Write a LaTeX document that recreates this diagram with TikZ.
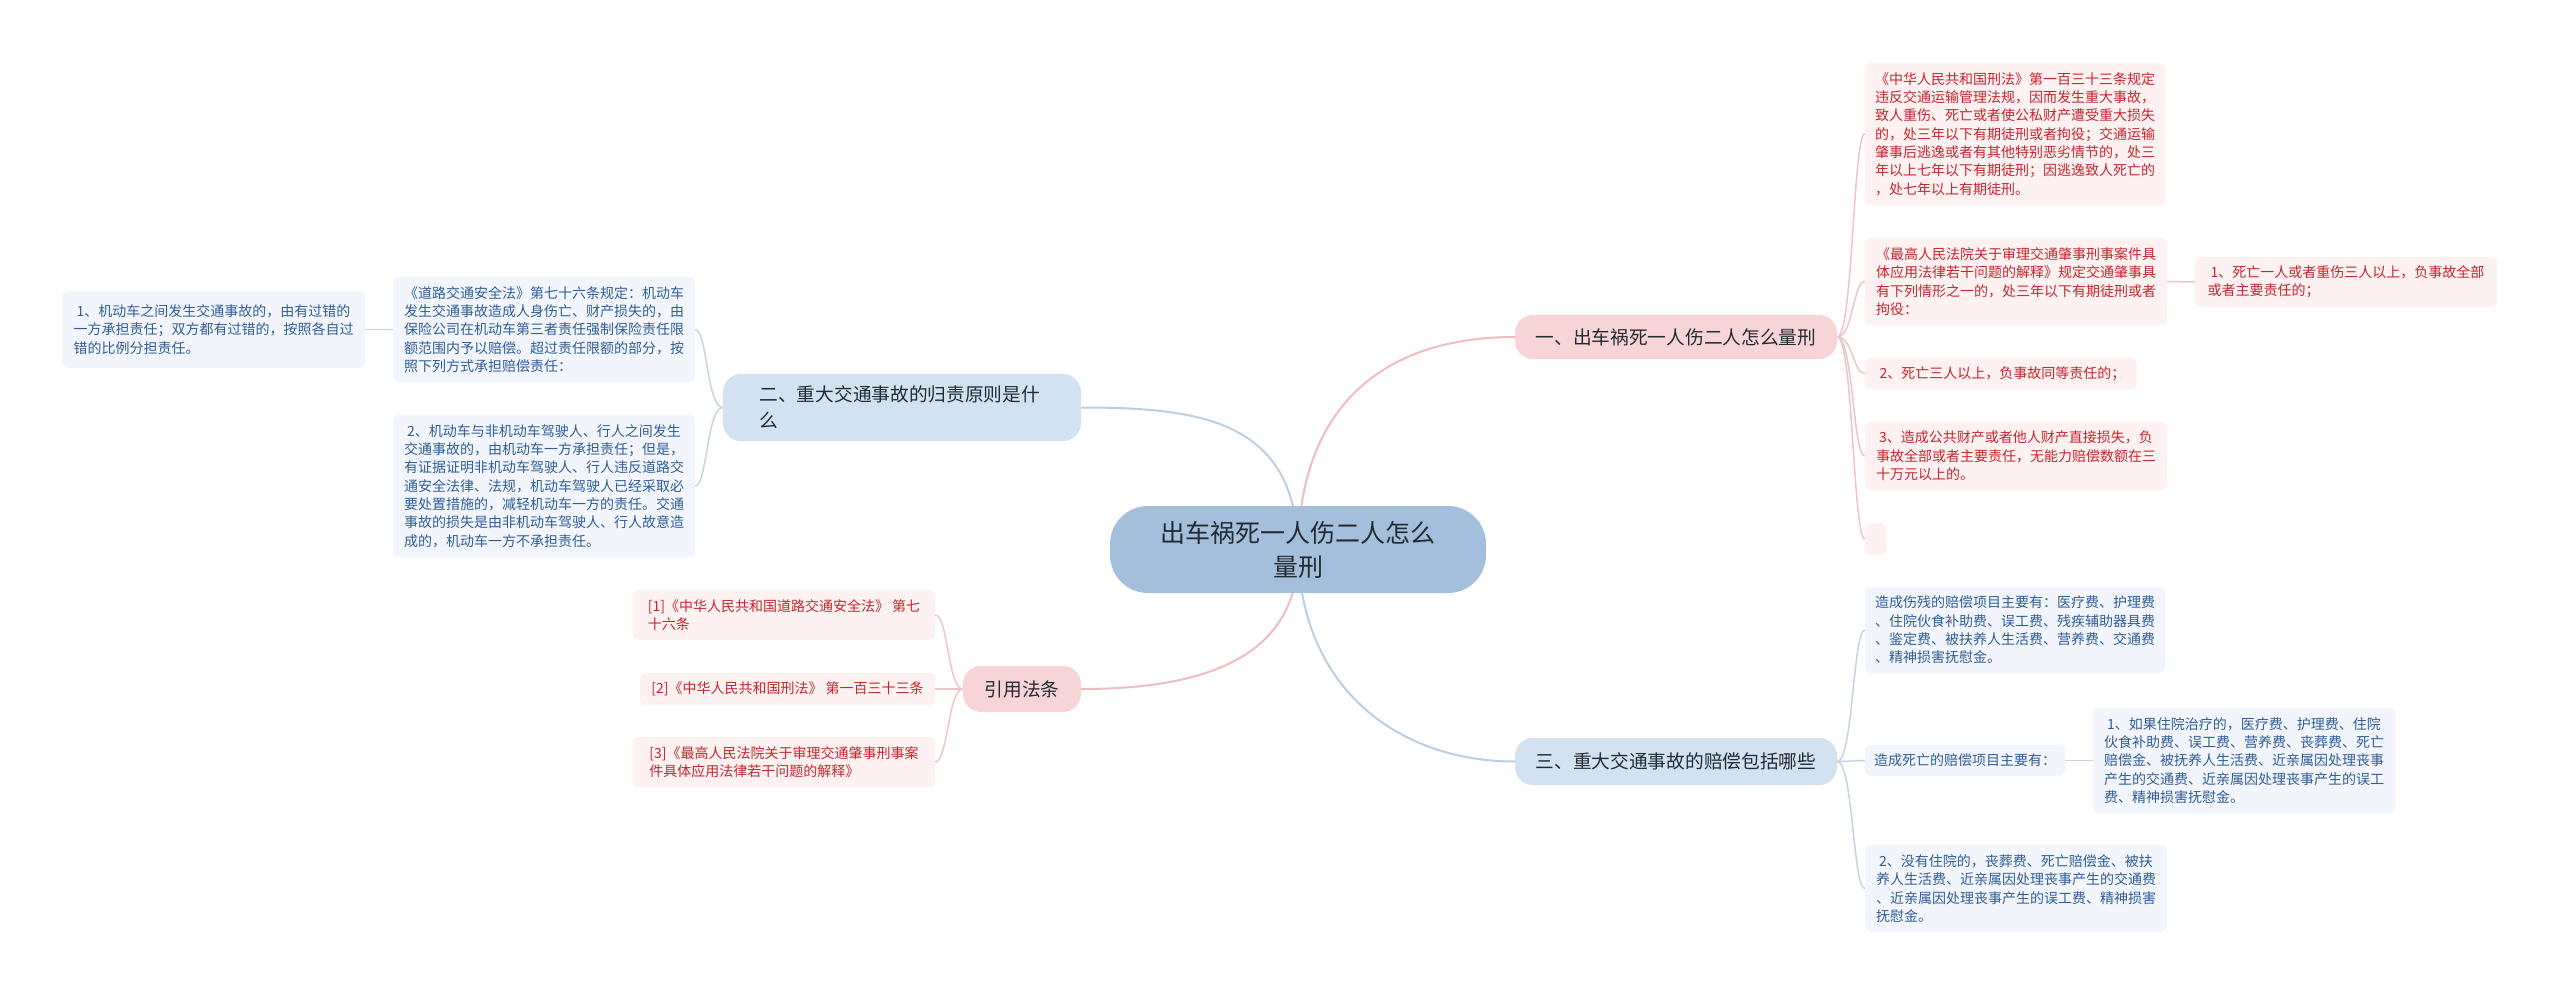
\documentclass[tikz,border=0pt]{standalone}
\usepackage{fontspec}
\setmainfont{Noto Sans CJK SC}
\usetikzlibrary{backgrounds}
\definecolor{pinktxt}{HTML}{C4262E}
\definecolor{pinkleaf}{HTML}{FDF1F2}
\definecolor{pinkbr}{HTML}{F7D4D6}
\definecolor{pinkline}{HTML}{F0BCC0}
\definecolor{pinkthin}{HTML}{EBC6C8}
\definecolor{bluetxt}{HTML}{2F5E96}
\definecolor{blueleaf}{HTML}{F2F6FC}
\definecolor{bluebr}{HTML}{D3E2F1}
\definecolor{blueline}{HTML}{BACFE4}
\definecolor{bluethin}{HTML}{C6D4E3}
\definecolor{centerfill}{HTML}{A4BFDB}
\definecolor{darktxt}{HTML}{222A33}
\begin{document}
\begin{tikzpicture}[x=1pt,y=-1pt,
  box/.style={rounded corners=6pt, inner sep=0pt, align=left, anchor=center},
  pleaf/.style={box, fill=pinkleaf, text=pinktxt, font=\fontsize{14}{18.3}\selectfont},
  bleaf/.style={box, fill=blueleaf, text=bluetxt, font=\fontsize{14}{18.3}\selectfont},
  pbranch/.style={box, rounded corners=18pt, fill=pinkbr, text=darktxt, font=\fontsize{18.7}{26}\selectfont},
  bbranch/.style={box, rounded corners=18pt, fill=bluebr, text=darktxt, font=\fontsize{18.7}{26}\selectfont},
  mainbox/.style={box, rounded corners=38pt, fill=centerfill, text=darktxt, align=center, font=\fontsize{25}{34}\selectfont},
  plink/.style={draw=pinkline, line width=2pt},
  blink/.style={draw=blueline, line width=2pt},
  pthin/.style={draw=pinkthin, line width=1.5pt},
  bthin/.style={draw=bluethin, line width=1.5pt}]
\useasboundingbox (0,0) rectangle (2560,996);

% center
\node[mainbox, minimum width=376, minimum height=87] (c) at (1298,549.5) {出车祸死一人伤二人怎么\\量刑};

% branches
\node[pbranch, minimum width=322, minimum height=44] (b1) at (1676,337) {一、出车祸死一人伤二人怎么量刑};
\node[bbranch, minimum width=358, minimum height=67, text width=285] (b2) at (902,407.5) {二、重大交通事故的归责原则是什\\么};
\node[pbranch, minimum width=118, minimum height=46] (b3) at (1022,689) {引用法条};
\node[bbranch, minimum width=322, minimum height=47] (b4) at (1676,761.5) {三、重大交通事故的赔偿包括哪些};

% branch 1 leaves
\node[pleaf, minimum width=300, minimum height=142] (l1) at (2015,134) {《中华人民共和国刑法》第一百三十三条规定\\违反交通运输管理法规，因而发生重大事故，\\致人重伤、死亡或者使公私财产遭受重大损失\\的，处三年以下有期徒刑或者拘役；交通运输\\肇事后逃逸或者有其他特别恶劣情节的，处三\\年以上七年以下有期徒刑；因逃逸致人死亡的\\，处七年以上有期徒刑。};
\node[pleaf, minimum width=302, minimum height=87] (l2) at (2016,281.5) {《最高人民法院关于审理交通肇事刑事案件具\\体应用法律若干问题的解释》规定交通肇事具\\有下列情形之一的，处三年以下有期徒刑或者\\拘役：};
\node[pleaf, minimum width=302, minimum height=50] (l2a) at (2346,282) {\hspace*{3pt}1、死亡一人或者重伤三人以上，负事故全部\\或者主要责任的；};
\node[pleaf, minimum width=272, minimum height=31] (l3) at (2001,373.5) {\hspace*{3pt}2、死亡三人以上，负事故同等责任的；};
\node[pleaf, minimum width=302, minimum height=68] (l4) at (2016,456) {\hspace*{3pt}3、造成公共财产或者他人财产直接损失，负\\事故全部或者主要责任，无能力赔偿数额在三\\十万元以上的。};
\node[pleaf, minimum width=21, minimum height=32] (l5) at (1875.5,539) {};

% branch 4 leaves
\node[bleaf, minimum width=300, minimum height=86] (r1) at (2015,630) {造成伤残的赔偿项目主要有：医疗费、护理费\\、住院伙食补助费、误工费、残疾辅助器具费\\、鉴定费、被扶养人生活费、营养费、交通费\\、精神损害抚慰金。};
\node[bleaf, minimum width=200, minimum height=31] (r2) at (1965,760.5) {造成死亡的赔偿项目主要有：};
\node[bleaf, minimum width=302, minimum height=106] (r2a) at (2244,760.5) {\hspace*{3pt}1、如果住院治疗的，医疗费、护理费、住院\\伙食补助费、误工费、营养费、丧葬费、死亡\\赔偿金、被抚养人生活费、近亲属因处理丧事\\产生的交通费、近亲属因处理丧事产生的误工\\费、精神损害抚慰金。};
\node[bleaf, minimum width=302, minimum height=87] (r3) at (2016,888.5) {\hspace*{3pt}2、没有住院的，丧葬费、死亡赔偿金、被扶\\养人生活费、近亲属因处理丧事产生的交通费\\、近亲属因处理丧事产生的误工费、精神损害\\抚慰金。};

% branch 2 leaves
\node[bleaf, minimum width=302, minimum height=105] (a1) at (544,329.5) {《道路交通安全法》第七十六条规定：机动车\\发生交通事故造成人身伤亡、财产损失的，由\\保险公司在机动车第三者责任强制保险责任限\\额范围内予以赔偿。超过责任限额的部分，按\\照下列方式承担赔偿责任：};
\node[bleaf, minimum width=303, minimum height=77] (a1a) at (213.5,329.5) {\hspace*{3pt}1、机动车之间发生交通事故的，由有过错的\\一方承担责任；双方都有过错的，按照各自过\\错的比例分担责任。};
\node[bleaf, minimum width=302, minimum height=142] (a2) at (544,486) {\hspace*{3pt}2、机动车与非机动车驾驶人、行人之间发生\\交通事故的，由机动车一方承担责任；但是，\\有证据证明非机动车驾驶人、行人违反道路交\\通安全法律、法规，机动车驾驶人已经采取必\\要处置措施的，减轻机动车一方的责任。交通\\事故的损失是由非机动车驾驶人、行人故意造\\成的，机动车一方不承担责任。};

% branch 3 leaves
\node[pleaf, minimum width=302, minimum height=50] (c1) at (784,615) {[1]《中华人民共和国道路交通安全法》 第七\\十六条};
\node[pleaf, minimum width=295, minimum height=32] (c2) at (787.5,689) {[2]《中华人民共和国刑法》 第一百三十三条};
\node[pleaf, minimum width=302, minimum height=50] (c3) at (784,762) {[3]《最高人民法院关于审理交通肇事刑事案\\件具体应用法律若干问题的解释》};

\begin{scope}[on background layer]
  \fill[white] (0,0) rectangle (2560,996);
  % main connectors
  \draw[plink] (c.center) .. controls (1300,400) and (1390,337) .. (b1.west);
  \draw[blink] (c.center) .. controls (1296,420) and (1200,407.5) .. (b2.east);
  \draw[plink] (c.center) .. controls (1300,660) and (1200,689) .. (b3.east);
  \draw[blink] (c.center) .. controls (1300,690) and (1400,761.5) .. (b4.west);
  % branch 1
  \foreach \n in {l1,l2,l3,l4,l5}
    \draw[pthin] (b1.east) .. controls (1853,337) and (1853,0|-\n.west) .. (\n.west);
  \draw[pthin] (l2.east) -- (l2a.west);
  % branch 4
  \foreach \n in {r1,r2,r3}
    \draw[bthin] (b4.east) .. controls (1853,761.5) and (1853,0|-\n.west) .. (\n.west);
  \draw[bthin] (r2.east) -- (r2a.west);
  % branch 2
  \foreach \n in {a1,a2}
    \draw[bthin] (b2.west) .. controls (707,407.5) and (707,0|-\n.east) .. (\n.east);
  \draw[bthin] (a1.west) -- (a1a.east);
  % branch 3
  \foreach \n in {c1,c2,c3}
    \draw[pthin] (b3.west) .. controls (948,689) and (948,0|-\n.east) .. (\n.east);
\end{scope}
\end{tikzpicture}
\end{document}
